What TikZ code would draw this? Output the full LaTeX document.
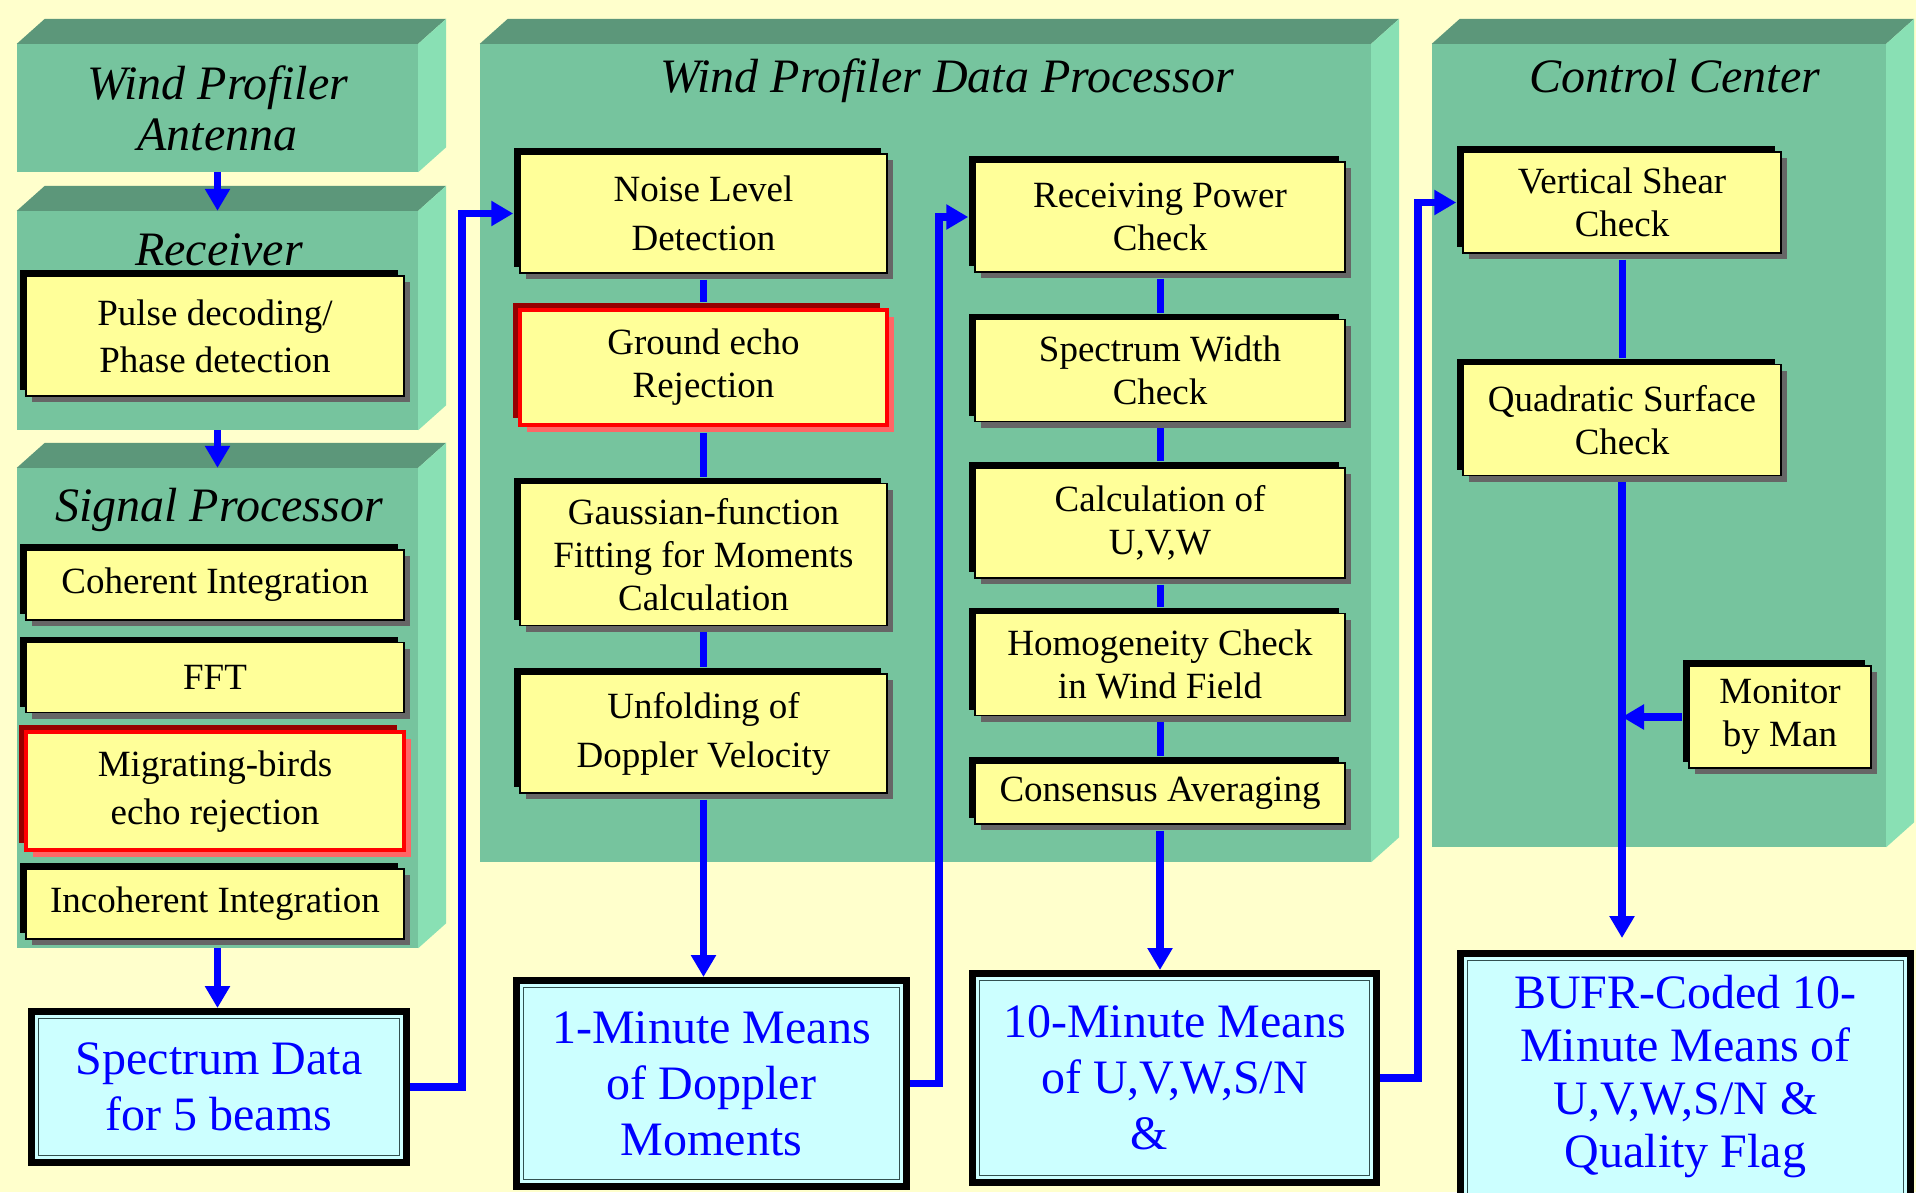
\documentclass[tikz,border=0pt]{standalone}
\usepackage{fontspec}
\setmainfont{Liberation Serif}
\usepackage{tikz}
\usetikzlibrary{arrows.meta, positioning, shadows}
\definecolor{paperYellow}{RGB}{255, 255, 204}
\definecolor{panelFront}{RGB}{118, 196, 158}
\definecolor{panelTop}{RGB}{92, 151, 122}
\definecolor{panelSide}{RGB}{137, 224, 180}
\definecolor{stepYellow}{RGB}{255, 255, 153}
\definecolor{shadeGray}{RGB}{102, 102, 102}
\definecolor{darkRed}{RGB}{150, 0, 0}
\definecolor{lightRed}{RGB}{255, 102, 102}
\definecolor{outCyan}{RGB}{204, 255, 255}
\definecolor{rimGray}{RGB}{50, 80, 80}
\definecolor{flowBlue}{RGB}{0, 0, 255}

\begin{document}
\begin{tikzpicture}[x=1pt, y=-1pt,
      panel/.style={rectangle, fill=panelFront, inner sep=0pt},
      title/.style={font=\fontsize{48}{51}\selectfont\itshape, align=center, inner sep=0pt},
      boxbase/.style={rectangle, fill=stepYellow, inner sep=0pt, align=center, font=\fontsize{37}{43}\selectfont},
      stepbox/.style={boxbase, draw=black, line width=1.5pt,
        general shadow={fill=black, shadow xshift=-6pt, shadow yshift=6pt},
        general shadow={fill=shadeGray, shadow xshift=6pt, shadow yshift=-6pt}},
      redbox/.style={boxbase, draw=red, line width=4pt,
        general shadow={fill=darkRed, shadow xshift=-7pt, shadow yshift=7pt},
        general shadow={fill=lightRed, shadow xshift=7pt, shadow yshift=-7pt}},
      outbox/.style={rectangle, draw=black, line width=7pt, fill=outCyan, inner sep=0pt, align=center,
        text=flowBlue, font=\fontsize{48}{56}\selectfont,
        path picture={\draw[rimGray, line width=1.5pt]
          ([shift={(7pt,-7pt)}]path picture bounding box.north west) rectangle
          ([shift={(-7pt,7pt)}]path picture bounding box.south east);}},
      link/.style={draw=flowBlue, line width=7pt, shorten <=6pt, shorten >=6pt},
      flow/.style={draw=flowBlue, line width=7.5pt, -{Triangle[width=24pt, length=22pt]}}]

  % background
  \fill[paperYellow] (0,0) rectangle (1916,1192);
  \useasboundingbox (0,0) rectangle (1916,1192);

  % panels
  \node[panel, title, minimum width=401pt, minimum height=128pt] (ant) at (217.5,108) {Wind Profiler\\Antenna};
  \node[panel, minimum width=401pt, minimum height=219pt] (rec) at (217.5,320.5) {};
  \node[panel, minimum width=401pt, minimum height=480pt] (sig) at (217.5,708) {};
  \node[panel, minimum width=891pt, minimum height=818pt] (proc) at (925.5,453) {};
  \node[panel, minimum width=454pt, minimum height=803pt] (ctrl) at (1659,445.5) {};
  \foreach \p in {ant,rec,sig,proc,ctrl}{
    \fill[panelTop] (\p.north west) -- ++(28,-25) -- ([shift={(28,-25)}]\p.north east) -- (\p.north east) -- cycle;
    \fill[panelSide] (\p.north east) -- ++(28,-25) -- ([shift={(28,-25)}]\p.south east) -- (\p.south east) -- cycle;
  }
  \node[title, anchor=base] (rectitle) at (219,265) {Receiver};
  \node[title, anchor=base] (sigtitle) at (219,521) {Signal Processor};
  \node[title, anchor=base] (proctitle) at (947,92) {Wind Profiler Data Processor};
  \node[title, anchor=base] (ctrltitle) at (1675,92) {Control Center};

  % receiver and signal processor
  \node[stepbox, minimum width=378pt, minimum height=120pt] (pulse) at (215,336) {Pulse decoding/\\[4pt]Phase detection};
  \node[stepbox, minimum width=378pt, minimum height=70pt] (coh) at (215,585) {Coherent Integration};
  \node[stepbox, minimum width=378pt, minimum height=70pt, below=21pt of coh] (fft) {FFT};
  \node[redbox, minimum width=378pt, minimum height=118pt, below=17pt of fft] (birds) {Migrating-birds\\[5pt]echo rejection};
  \node[stepbox, minimum width=378pt, minimum height=70pt, below=16pt of birds] (incoh) {Incoherent Integration};

  % data processor
  \node[stepbox, minimum width=367pt, minimum height=119pt] (noise) at (703.5,213.5) {Noise Level\\[6pt]Detection};
  \node[redbox, minimum width=367pt, minimum height=115pt, below=34pt of noise] (ground) {Ground echo\\Rejection};
  \node[stepbox, minimum width=367pt, minimum height=142pt, below=56pt of ground] (gauss) {Gaussian-function\\Fitting for Moments\\Calculation};
  \node[stepbox, minimum width=367pt, minimum height=119pt, below=47pt of gauss] (unfold) {Unfolding of\\[6pt]Doppler Velocity};

  \node[stepbox, minimum width=370pt, minimum height=110pt] (rpower) at (1160,217) {Receiving Power\\Check};
  \node[stepbox, minimum width=370pt, minimum height=102pt, below=46pt of rpower] (swidth) {Spectrum Width\\Check};
  \node[stepbox, minimum width=370pt, minimum height=110pt, below=45pt of swidth] (calcuvw) {Calculation of\\U,V,W};
  \node[stepbox, minimum width=370pt, minimum height=102pt, below=34pt of calcuvw] (homog) {Homogeneity Check\\in Wind Field};
  \node[stepbox, minimum width=370pt, minimum height=61pt, below=46pt of homog] (consen) {Consensus Averaging};

  % control center
  \node[stepbox, minimum width=318pt, minimum height=101pt] (vshear) at (1622,202.5) {Vertical Shear\\Check};
  \node[stepbox, minimum width=318pt, minimum height=111pt, below=110pt of vshear] (quad) {Quadratic Surface\\Check};
  \node[stepbox, minimum width=182pt, minimum height=102pt] (monitor) at (1780,717) {Monitor\\by Man};

  % products
  \node[outbox, minimum width=375pt, minimum height=151pt] (spec) at (219,1087) {Spectrum Data\\for 5 beams};
  \node[outbox, minimum width=390pt, minimum height=206pt] (min1) at (711.5,1083.5) {1-Minute Means\\of Doppler\\Moments};
  \node[outbox, minimum width=404pt, minimum height=209pt] (min10) at (1174.5,1078) {10-Minute Means\\of U,V,W,S/N\\\&\hspace*{50pt}};
  \node[outbox, minimum width=450pt, minimum height=247pt, font=\fontsize{48}{53}\selectfont] (bufr) at (1685.5,1077) {BUFR-Coded 10-\\Minute Means of\\U,V,W,S/N \&\\Quality Flag};

  % connectors
  \draw[flow] (ant) -- (rec);
  \draw[flow] (rec) -- (sig);
  \draw[flow] (sig.south) -- (sig.south |- spec.north);
  \draw[flow, shorten >=6pt] (spec.east) -- ++(52,0) |- (noise.west);
  \draw[link] (noise) -- (ground);
  \draw[link] (ground) -- (gauss);
  \draw[link] (gauss) -- (unfold);
  \draw[flow, shorten <=6pt] (unfold.south) -- (unfold.south |- min1.north);
  \draw[flow, shorten >=6pt] (min1.east) -- ++(29,0) |- (rpower.west);
  \draw[link] (rpower) -- (swidth);
  \draw[link] (swidth) -- (calcuvw);
  \draw[link] (calcuvw) -- (homog);
  \draw[link] (homog) -- (consen);
  \draw[flow, shorten <=6pt] (consen.south) -- (consen.south |- min10.north);
  \draw[flow, shorten >=6pt] (min10.east) -- ++(38,0) |- (vshear.west);
  \draw[link] (vshear) -- (quad);
  \draw[flow, shorten <=6pt, shorten >=12pt] (quad.south) -- (quad.south |- bufr.north);
  \draw[flow, shorten <=6pt] (monitor.west) -- (quad.south |- monitor.west);
\end{tikzpicture}
\end{document}
